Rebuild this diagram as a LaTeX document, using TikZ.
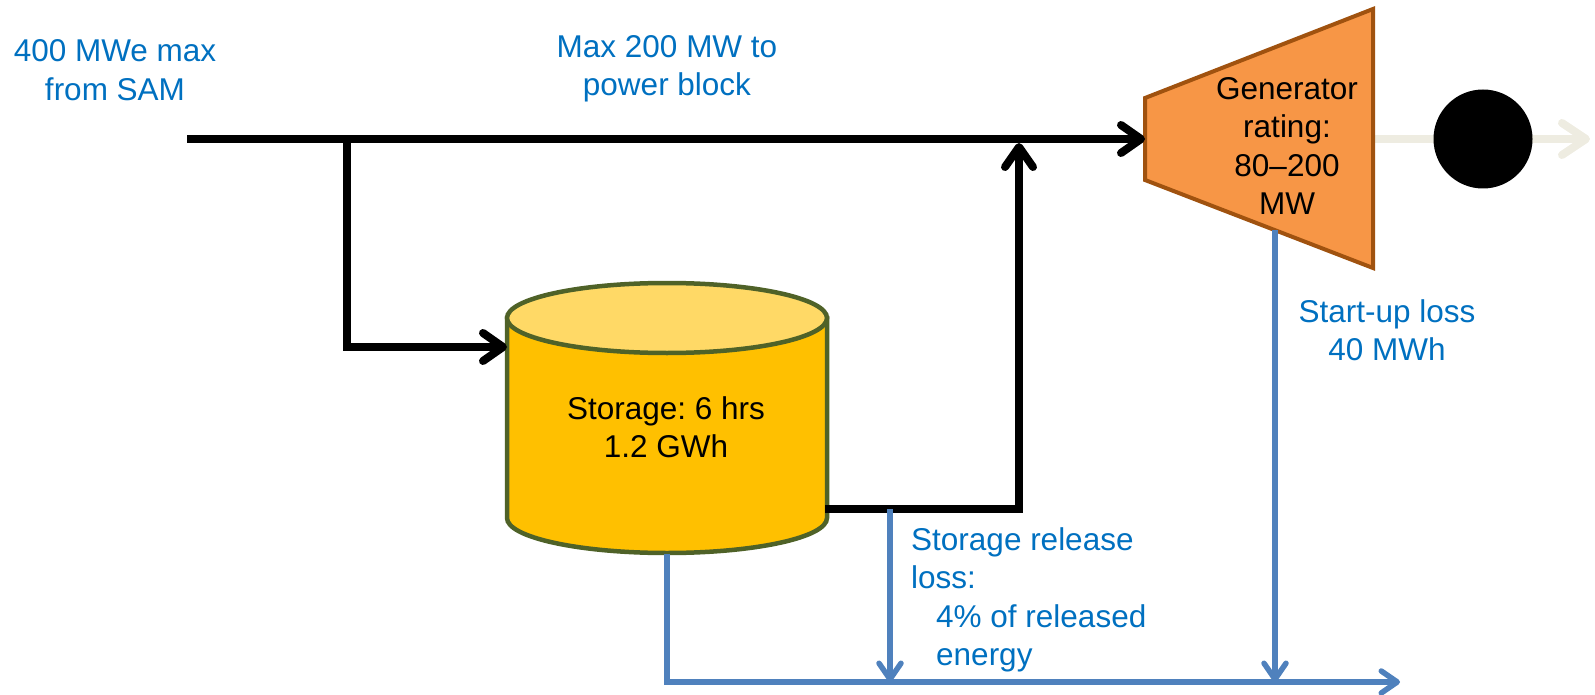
\documentclass[tikz,border=0pt]{standalone}
\usepackage{fontspec}
\setmainfont{Liberation Sans}
\usetikzlibrary{arrows.meta}
\definecolor{labelblue}{HTML}{0070C0}
\definecolor{lossblue}{HTML}{4F81BD}
\definecolor{genfill}{HTML}{F79646}
\definecolor{genedge}{HTML}{A0520F}
\definecolor{tankbody}{HTML}{FFC000}
\definecolor{tanktop}{HTML}{FFD966}
\definecolor{tankedge}{HTML}{4F6228}
\definecolor{gridgrey}{HTML}{EEECE1}
\frenchspacing

\begin{document}
\begin{tikzpicture}[x=1pt,y=-1pt,
  lbl/.style={font=\fontsize{31.5}{38.5}\selectfont, inner sep=0pt, align=center},
  bluelbl/.style={lbl, text=labelblue},
  flow/.style={line width=8pt, -{Straight Barb[length=20pt,width=28pt,round]}},
  loss/.style={lossblue, line width=5.5pt, -{Straight Barb[length=16pt,width=22pt,round]}},
  gridline/.style={gridgrey, line width=8pt, -{Straight Barb[length=24pt,width=32pt,round]}},
  tank/.style={draw=tankedge, line width=4.5pt},
  gen/.style={fill=genfill, draw=genedge, line width=4pt}
]
\useasboundingbox (0,0) rectangle (1595,695);

% reference points
\coordinate (src) at (187,139);
\coordinate (split) at (347,139);
\coordinate (merge) at (1019,139);
\coordinate (gin) at (1145,139);
\coordinate (gout) at (1373,139);
\coordinate (gbot) at (1275,230);
\coordinate (grid) at (1590,139);
\coordinate (sin) at (507,347);
\coordinate (sout) at (825,509);
\coordinate (sbot) at (667,554);
\coordinate (tap) at (890,509);
\coordinate (sinkend) at (1400,682);

% output line to the grid, behind the bulb
\draw[gridline] (gout) -- (grid);
\node[circle, fill=black, minimum size=99pt, inner sep=0pt] (bulb) at (1483,139) {};

% generator
\filldraw[gen] (1145,98) -- (1373,9) -- (1373,268) -- (1145,180) -- cycle;
\node[lbl] (gentext) at (1287,146) {Generator\\rating:\\80--200\\MW};

% storage tank
\filldraw[tank, fill=tankbody] (507,318) -- (507,518)
  arc[start angle=180, end angle=360, x radius=160pt, y radius=35pt]
  -- (827,318) -- cycle;
\filldraw[tank, fill=tanktop] (667,318) ellipse[x radius=160pt, y radius=35pt];
\node[lbl] (sttext) at (666,427) {Storage: 6 hrs\\1.2 GWh};

% energy flows
\draw[line width=8pt] (src) -- (split);
\draw[flow] (split) -- (gin);
\draw[flow] (split) |- (sin);
\draw[flow, line cap=butt] (sout) -| ([yshift=-4pt]merge);

% losses
\draw[loss] (sbot) |- (sinkend);
\draw[loss] (tap) -- (tap |- sinkend);
\draw[loss] (gbot) -- (gbot |- sinkend);

% labels
\node[bluelbl] (srclbl) at (115,70) {400 MWe max\\from SAM};
\node[bluelbl] (pblbl) at (667,69) {Max 200 MW to\\power block};
\node[bluelbl] (sulbl) at (1387,330) {Start-up loss\\40 MWh};
\node[bluelbl, align=left, anchor=west] (srlbl) at (911,600)
  {Storage release\\loss:\\\hspace*{25pt}4\% of released\\\hspace*{25pt}energy};
\end{tikzpicture}
\end{document}
